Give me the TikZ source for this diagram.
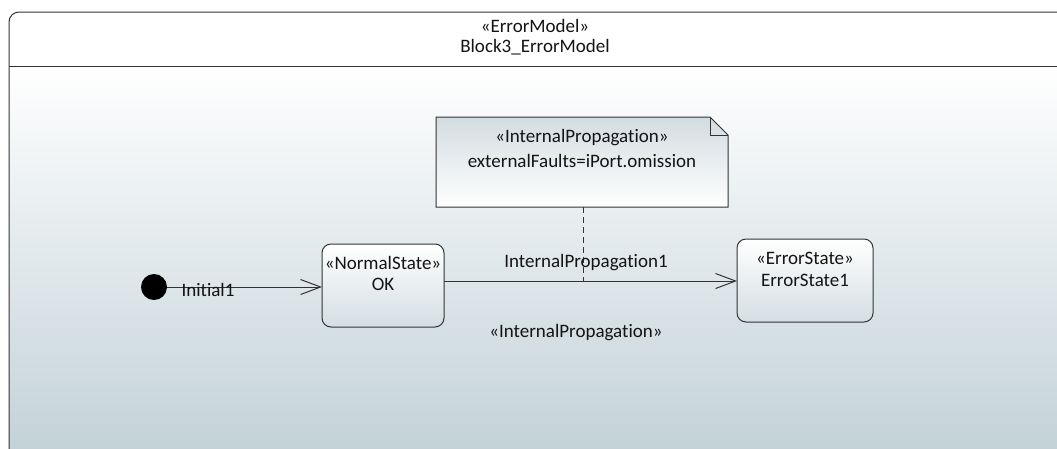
\documentclass[tikz,border=0pt]{standalone}
\usepackage{fontspec}
\setmainfont[Ligatures=NoCommon]{Carlito}
\usetikzlibrary{arrows.meta,shapes.misc}
\definecolor{edge}{HTML}{333333}
\definecolor{frametop}{HTML}{FFFFFF}
\definecolor{framebot}{HTML}{C3D2D7}
\definecolor{statetop}{HTML}{FFFFFF}
\definecolor{statebot}{HTML}{D4DEE2}
\definecolor{notetop}{HTML}{D3DCE0}
\tikzset{
  x=1pt, y=-1pt,
  txt/.style={font=\fontsize{19}{22}\selectfont, text=black!92, inner sep=0pt},
  statebox/.style={draw=edge, line width=1pt, rounded corners=9pt,
    top color=statetop, bottom color=statebot},
  flow/.style={draw=edge, line width=1pt, -{Straight Barb[length=20pt,width=15pt,line width=1pt]}},
  anchorline/.style={draw=edge, line width=1pt, dash pattern=on 6pt off 4pt},
}
\begin{document}
\begin{tikzpicture}
\useasboundingbox (0,0) rectangle (1057,448);
\fill[white] (0,0) rectangle (1057,448);
% container frame
\shade[top color=frametop, bottom color=framebot]
  (9,66) rectangle (1060,452);
\fill[white] (9,12) rectangle (1060,66);
\draw[edge, line width=1pt, rounded corners=10pt]
  (9,452) -- (9,12) -- (1062,12);
\draw[edge, line width=1pt] (9,66) -- (1060,66);
\node[txt] (hdr1) at (535,26) {«ErrorModel»};
\node[txt] (hdr2) at (535,47) {Block3\_ErrorModel};

% note
\shade[top color=notetop, bottom color=white, draw=edge, line width=1pt]
  (436,117) -- (710,117) -- (728,135) -- (728,207) -- (436,207) -- cycle;
\draw[edge, line width=1pt] (710,117) -- (710,135) -- (728,135);
\coordinate (noteb) at (583,207);
\node[txt] (n1) at (582,138) {«InternalPropagation»};
\node[txt] (n2) at (582,161) {externalFaults=iPort.omission};

% states
\path[statebox] (322,244) rectangle (444,327);
\coordinate (okW) at (322,287);
\coordinate (okE) at (444,281);
\node[txt] (okS) at (383,263) {«NormalState»};
\node[txt] (okN) at (383,284) {OK};

\path[statebox] (737,239) rectangle (873,322);
\coordinate (erW) at (737,281);
\node[txt] (erS) at (805,258) {«ErrorState»};
\node[txt] (erN) at (805,280) {ErrorState1};

% initial pseudostate
\node[circle, fill=black, minimum size=26pt, inner sep=0pt] (init) at (154,287) {};

% transitions
\draw[flow] (init.east) -- (okW);
\node[txt] (lab0) at (208,290) {Initial1};
\draw[flow] (okE) -- (erW);
\coordinate (tmid) at (583,281);
\draw[anchorline] (noteb) -- (tmid);
\node[txt] (lab1) at (586,263) {InternalPropagation1};
\node[txt] (lab2) at (576,333) {«InternalPropagation»};
\end{tikzpicture}
\end{document}
